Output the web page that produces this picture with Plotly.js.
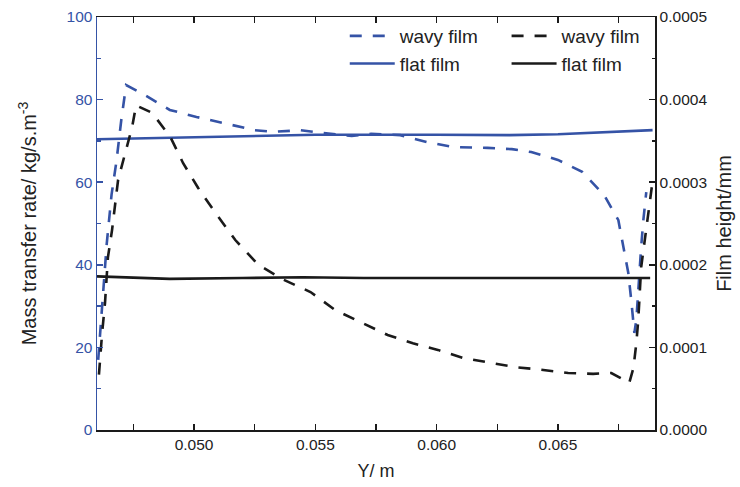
<!DOCTYPE html>
<html><head><meta charset="utf-8">
<script src="https://cdn.plot.ly/plotly-3.0.1.min.js"></script>
<style>html,body{margin:0;padding:0;background:#fff}#chart{width:740px;height:487px}</style>
</head><body><div id="chart"></div>
<script>
// Mass transfer rate (left axis, kg/s.m^-3)
const wavyRateX = [0.04605, 0.0462, 0.0464, 0.0466, 0.0468, 0.0470, 0.0472, 0.0480, 0.0490, 0.0501, 0.0512, 0.0525, 0.0533, 0.0544, 0.0553, 0.0565, 0.0573, 0.0585, 0.0596, 0.0607, 0.0621, 0.0631, 0.0639, 0.0650, 0.0660, 0.0669, 0.06749, 0.06769, 0.0679, 0.06802, 0.06811, 0.06815, 0.06823, 0.06835, 0.06843, 0.06852, 0.06864];
const wavyRateY = [17, 30, 45, 57, 65, 75, 83.5, 81, 77.5, 75.8, 74.3, 72.6, 72.2, 72.6, 71.9, 71.2, 71.7, 71.4, 69.7, 68.5, 68.3, 68.0, 67.3, 65.4, 62.5, 56.9, 50.8, 44.3, 38, 31.5, 25.4, 23.5, 26.6, 38, 44.3, 50.8, 57.6];
const flatRateX = [0.0460, 0.0500, 0.0550, 0.0600, 0.0630, 0.0650, 0.0670, 0.0689];
const flatRateY = [70.4, 70.9, 71.5, 71.5, 71.4, 71.6, 72.1, 72.6];

// Film height (right axis, mm)
const wavyHeightX = [0.04608, 0.04612, 0.04621, 0.04633, 0.04645, 0.04662, 0.04674, 0.04687, 0.04716, 0.04745, 0.04761, 0.04827, 0.04902, 0.04955, 0.05017, 0.05088, 0.0517, 0.05265, 0.05369, 0.0548, 0.05583, 0.05687, 0.05798, 0.05902, 0.06005, 0.06112, 0.06216, 0.06327, 0.0643, 0.06542, 0.06645, 0.0672, 0.06794, 0.06811, 0.06823, 0.06831, 0.06843, 0.06856, 0.06868, 0.06889];
const wavyHeightY = [0.000067, 0.000085, 0.000117, 0.000154, 0.000209, 0.000242, 0.000275, 0.000303, 0.000335, 0.000367, 0.000393, 0.000384, 0.000355, 0.000323, 0.000293, 0.000263, 0.000230, 0.000200, 0.000182, 0.000167, 0.000145, 0.000130, 0.000115, 0.000105, 0.000097, 0.000087, 0.000082, 0.000076, 0.000073, 0.000069, 0.000068, 0.000069, 0.000057, 0.000075, 0.000105, 0.000133, 0.000197, 0.000226, 0.000258, 0.000299];
const flatHeightX = [0.0460, 0.0470, 0.0490, 0.0520, 0.0545, 0.0570, 0.0600, 0.0640, 0.0688];
const flatHeightY = [0.000186, 0.000185, 0.000183, 0.000184, 0.000185, 0.000184, 0.000184, 0.000184, 0.000184];

const BLUE = '#3553a6', BLACK = '#1a1a1a';
const DASH = '12px,11px';
const traces = [
  {x: wavyRateX, y: wavyRateY, name: 'wavy film', mode: 'lines', yaxis: 'y', legend: 'legend',
   line: {color: BLUE, width: 2.6, dash: DASH}},
  {x: flatRateX, y: flatRateY, name: 'flat film', mode: 'lines', yaxis: 'y', legend: 'legend',
   line: {color: BLUE, width: 2.6}},
  {x: wavyHeightX, y: wavyHeightY, name: 'wavy film', mode: 'lines', yaxis: 'y2', legend: 'legend2',
   line: {color: BLACK, width: 2.6, dash: DASH}},
  {x: flatHeightX, y: flatHeightY, name: 'flat film', mode: 'lines', yaxis: 'y2', legend: 'legend2',
   line: {color: BLACK, width: 2.6}}
];
const FONT = 'Liberation Sans, Arial, Helvetica, sans-serif';
const layout = {
  width: 740, height: 487,
  margin: {l: 97, r: 85, t: 17, b: 57},
  paper_bgcolor: '#fff', plot_bgcolor: '#fff',
  font: {family: FONT, size: 15.5, color: '#222'},
  showlegend: true,
  xaxis: {
    range: [0.046, 0.069], tick0: 0.05, dtick: 0.005, tickformat: '.3f',
    ticks: 'inside', ticklen: 6, tickwidth: 1.5, tickcolor: BLACK,
    showline: true, linecolor: BLACK, linewidth: 1.5, mirror: 'allticks',
    showgrid: false, zeroline: false,
    minor: {ticks: 'inside', dtick: 0.0025, tick0: 0.05, ticklen: 3.5, tickwidth: 1.5, tickcolor: BLACK, showgrid: false},
    title: {text: 'Y/ m', font: {size: 18, color: '#222'}, standoff: 12}
  },
  yaxis: {
    range: [0, 100], dtick: 20,
    ticks: 'inside', ticklen: 6, tickwidth: 1.5, tickcolor: BLUE,
    tickfont: {color: BLUE},
    showline: true, linecolor: BLUE, linewidth: 1.5,
    showgrid: false, zeroline: false,
    minor: {ticks: 'inside', dtick: 10, ticklen: 3.5, tickwidth: 1.5, tickcolor: BLUE, showgrid: false},
    title: {text: 'Mass transfer rate/ kg/s.m<sup>-3</sup>', font: {size: 20, color: '#222'}, standoff: 24}
  },
  yaxis2: {
    overlaying: 'y', side: 'right',
    range: [0, 0.0005], dtick: 0.0001, tickformat: '.4f',
    ticks: 'inside', ticklen: 6, tickwidth: 1.5, tickcolor: BLACK,
    showline: true, linecolor: BLACK, linewidth: 1.5,
    showgrid: false, zeroline: false,
    minor: {ticks: 'inside', dtick: 0.00005, ticklen: 3.5, tickwidth: 1.5, tickcolor: BLACK, showgrid: false},
    title: {text: 'Film height/mm', font: {size: 20, color: '#222'}, standoff: 10}
  },
  legend: {x: 0.444, y: 1, xanchor: 'left', yanchor: 'top', bgcolor: 'rgba(0,0,0,0)',
           font: {size: 19, color: '#222'}, itemwidth: 45, tracegroupgap: 0},
  legend2: {x: 0.734, y: 1, xanchor: 'left', yanchor: 'top', bgcolor: 'rgba(0,0,0,0)',
            font: {size: 19, color: '#222'}, itemwidth: 45, tracegroupgap: 0}
};
Plotly.newPlot('chart', traces, layout, {displayModeBar: false, staticPlot: true});
</script>
</body></html>
